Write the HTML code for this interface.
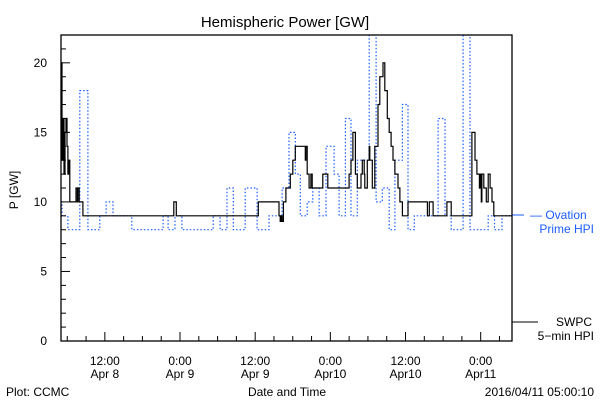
<!DOCTYPE html>
<html><head><meta charset="utf-8"><style>
body{margin:0;background:#fff}
svg{display:block;font-family:"Liberation Sans",sans-serif}
</style></head><body>
<svg id="c" width="600" height="400" viewBox="0 0 600 400">
<text x="285" y="27" font-size="15" text-anchor="middle">Hemispheric Power [GW]</text>
<text transform="translate(18,190) rotate(-90)" font-size="12" text-anchor="middle">P [GW]</text>
<text x="287" y="396" font-size="12" text-anchor="middle">Date and Time</text>
<text x="6" y="396" font-size="12">Plot: CCMC</text>
<text x="594" y="396" font-size="12" text-anchor="end">2016/04/11 05:00:10</text>
<g>
<line x1="512" y1="215" x2="524" y2="215" stroke="#1a5cff" stroke-width="1"/>
<text x="530" y="219" font-size="12" fill="#1a5cff">— Ovation</text>
<text x="594" y="233" font-size="12" fill="#1a5cff" text-anchor="end">Prime HPI</text>
</g>
<g>
<line x1="512" y1="322" x2="538" y2="322" stroke="#000" stroke-width="1"/>
<text x="592" y="326" font-size="12" text-anchor="end">SWPC</text>
<text x="594" y="340" font-size="12" text-anchor="end">5−min HPI</text>
</g>
<g id="plot"></g>
</svg>
<script>
const blueT=[0,0.16,1.1,3.0,4.3,6.2,7.2,8.3,11.3,16.3,17.1,18.2,19.3,24.3,25.4,26.5,27.5,29.4,31.3,33.2,35.3,36.4,37.4,38.2,39.3,40.2,41.2,42.3,43.6,44.4,45.4,46.3,47.3,49.2,50.3,51.3,52.4,53.3,54.5,55.4,56.4,60.2,61.3,62.3,64.2,65.3,68.2,69.2,70.4];
const blueV=[10,9,8,18,8,9,10,9,8,9,8,9,8,9,8,11,8,11,8,9,11,15,12,9,10,11,9,14,12,9,16,9,13,22,10,11,8,13,17,8,9,16,9,8,22,8,9,8,9];
const blackT=[0,0.16,0.32,0.48,0.64,0.8,0.96,1.1,1.3,1.4,2.4,2.6,2.7,2.9,3.5,18.0,18.4,31.5,34.8,35.0,35.1,35.3,35.5,35.9,36.6,37.0,37.4,39.0,39.1,39.3,39.6,39.9,40.1,41.8,42.6,46.0,46.3,46.6,47.0,47.3,47.9,48.1,48.4,48.5,48.9,49.2,49.3,49.7,50.1,50.6,50.9,51.4,51.7,52.1,52.4,52.7,53.0,53.3,53.8,54.1,54.5,55.4,58.5,58.8,59.4,61.6,62.3,65.6,66.1,66.4,66.8,66.9,67.1,67.2,67.5,67.9,68.2,68.5,68.8,69.1];
const blackV=[20,13,16,12,15,16,14,12,13,10,11,10,11,10,9,10,9,10,9,8.6,9,8.6,10,11,12,13,14,13,14,12,11,12,11,12,11,12,13,15,12,11,12,13,12,11,13,14,13,11,14,17,19,20,18,16,15,14,13,12,11,10,9,10,9,10,9,10,9,15,13,12,11,12,10,12,11,10,12,11,10,9];
const xTickLabels=[["12:00","Apr 8"],["0:00","Apr 9"],["12:00","Apr 9"],["0:00","Apr10"],["12:00","Apr10"],["0:00","Apr11"]];
const xTickHours=[7,19,31,43,55,67];
const yTickLabels=[0,5,10,15,20];

const L=61,R=512,T=35,B=341,H=72,YMAX=22.0;
const xs=h=>L+h*(R-L)/H;
const ys=v=>B-v*(B-T)/YMAX;
const NS="http://www.w3.org/2000/svg";
const g=document.getElementById('plot');
function mk(tag,attrs){const e=document.createElementNS(NS,tag);for(const k in attrs)e.setAttribute(k,attrs[k]);return e;}

const defs=mk('defs',{});const cp=mk('clipPath',{id:'clip'});cp.appendChild(mk('rect',{x:L,y:T,width:R-L,height:B-T}));defs.appendChild(cp);g.appendChild(defs);

function stepPath(t,v){let d='';for(let i=0;i<t.length;i++){const x=xs(t[i]).toFixed(1),y=ys(v[i]).toFixed(1);if(i===0)d+='M'+x+' '+y;else d+=' H'+x+' V'+y;}d+=' H'+xs(H).toFixed(1);return d;}

const bp=mk('path',{d:stepPath(blueT,blueV),fill:'none',stroke:'#1a5cff','stroke-width':1.2,'stroke-dasharray':'1.5 2','clip-path':'url(#clip)'});


g.appendChild(bp);
const kp=mk('path',{d:stepPath(blackT,blackV),fill:'none',stroke:'#000','stroke-width':1.2,'clip-path':'url(#clip)'});


g.appendChild(kp);

const frame=mk('rect',{x:L,y:T,width:R-L,height:B-T,fill:'none',stroke:'#000','stroke-width':1.3});


g.appendChild(frame);

// y ticks
for(let v=0;v<=22;v++){const y=ys(v);const long=v%5===0;
const tk=mk('line',{x1:L,x2:L+(long?9:5),y1:y,y2:y,stroke:'#000'});


g.appendChild(tk);}
yTickLabels.forEach(v=>{const t=mk('text',{x:L-14,y:ys(v)+4,'font-size':12,'text-anchor':'end'});t.textContent=v;


g.appendChild(t);});
// x ticks
for(let h=1;h<H;h+=3){const x=xs(h);const long=(h-7)%12===0;
const tk=mk('line',{x1:x,x2:x,y1:B,y2:B-(long?9:5),stroke:'#000'});


g.appendChild(tk);}
xTickHours.forEach((h,i)=>{const x=xs(h);
const t1=mk('text',{x:x,y:365,'font-size':12,'text-anchor':'middle'});t1.textContent=xTickLabels[i][0];


g.appendChild(t1);
const t2=mk('text',{x:x,y:378,'font-size':12,'text-anchor':'middle'});t2.textContent=xTickLabels[i][1];


g.appendChild(t2);});
</script>
</body></html>
